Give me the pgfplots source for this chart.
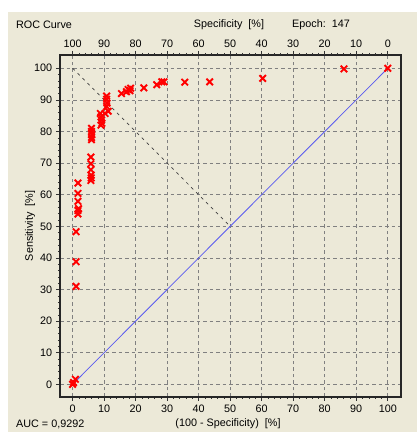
\documentclass[border=0pt]{standalone}
\usepackage{fontspec}
\setmainfont{Liberation Sans}
\usepackage{pgfplots}
\pgfplotsset{compat=1.18}
\definecolor{bgc}{HTML}{ECE9D8}
\definecolor{blueline}{HTML}{5A5AF0}
\definecolor{gridc}{HTML}{808080}
\begin{document}
\fontsize{10.8bp}{13bp}\selectfont
\begin{tikzpicture}[x=1bp,y=1bp,font=\fontsize{10.8bp}{13bp}\selectfont]
\useasboundingbox (0,0) rectangle (417,432);
\fill[white] (0,0) rectangle (417,432);
\fill[bgc] (8,0) rectangle (417,420);
\pgfplotsset{common/.style={
  at={(60bp,35bp)}, anchor=south west, scale only axis,
  width=341bp, height=342bp,
  xmin=-4, xmax=104.2, ymin=-4, ymax=104.2,
  tick align=outside,
  major tick length=4bp, minor tick length=2bp,
  tick style={black!80, line width=0.6bp},
  /pgf/number format/assume math mode=true,
}}
\begin{axis}[common,
  axis line style={black!85, line width=1.2bp},
  xtick={0,10,...,100}, ytick={0,10,...,100},
  minor tick num=4,
  xtick pos=left, ytick pos=left,
  grid=major,
  major grid style={gridc, dash pattern=on 3.5bp off 3bp, line width=0.7bp},
]
\addplot[blueline, line width=0.8bp] coordinates {(0,0) (100,100)};
\addplot[black!75, dash pattern=on 3bp off 4bp, line width=0.7bp] coordinates {(0,100) (50,50)};
\addplot[only marks, mark=x, red, mark size=4.6bp, line width=1.9bp] coordinates {
(0,0) (0.3,0.6) (0.9,1.6)
(1.1,31.0) (1.1,38.8) (1.1,48.3)
(1.7,53.9) (1.7,55.0) (1.9,55.6) (1.7,57.9) (1.7,60.4) (1.7,63.7)
(5.8,64.5) (5.9,65.3) (5.9,66.2) (5.8,67.9) (5.8,69.8) (5.8,71.9)
(6.0,77.4) (6.0,78.1) (6.1,79.0) (6.0,80.0) (6.0,81.0)
(9.0,82.0) (9.3,82.6) (9.2,83.6) (9.0,84.6) (8.8,85.7) (10.3,85.7)
(11.3,86.4) (10.8,87.9) (10.9,89.0) (10.8,90.2) (10.8,91.2)
(15.5,92.0) (17.1,92.6) (17.6,93.3) (18.2,92.9) (18.4,93.7)
(22.6,93.8) (26.7,94.8) (28.3,95.7) (29.0,95.7) (35.6,95.6) (43.5,95.7)
(60.3,96.8) (86.1,99.8) (100,100)
};
\end{axis}
\begin{axis}[common,
  axis line style={draw=none},
  xtick={0,10,...,100},
  xticklabels={100,90,80,70,60,50,40,30,20,10,0},
  minor x tick num=4,
  xtick pos=right, xticklabel pos=right,
  ytick=\empty,
]
\addplot[draw=none] coordinates {(0,0) (100,100)};
\end{axis}
\node[anchor=west, inner sep=0] at (16,407) {ROC Curve};
\node[inner sep=0] at (229,407) {Specificity\ \ [\%]};
\node[anchor=west, inner sep=0] at (292,407) {Epoch:\ \ 147};
\node[anchor=west, inner sep=0] at (16,8) {AUC = 0,9292};
\node[inner sep=0] at (228,8) {(100 - Specificity)\ \ [\%]};
\node[inner sep=0, rotate=90] at (30,206) {Sensitivity\ \ [\%]};
\end{tikzpicture}
\end{document}
